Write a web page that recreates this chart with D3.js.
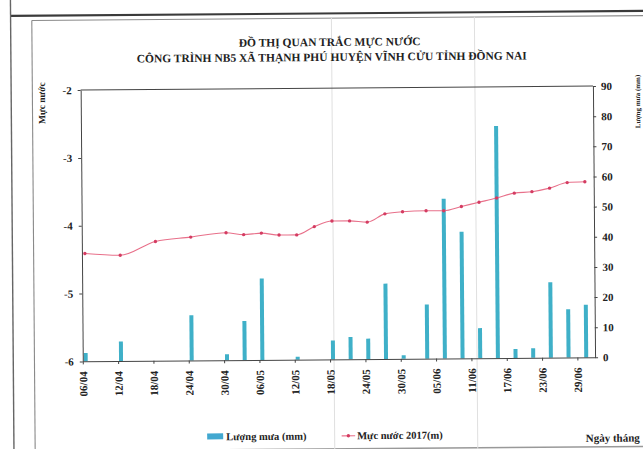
<!DOCTYPE html>
<html><head><meta charset="utf-8">
<script src="https://cdn.jsdelivr.net/npm/d3@7"></script>
<style>
html,body{margin:0;padding:0;background:#fff;overflow:hidden}
svg{display:block}
text{font-family:"Liberation Serif","Times New Roman",serif;font-weight:bold;fill:#222}
</style></head><body>
<svg id="c" width="643" height="449"></svg>
<script>
// ---- data ----
const dates = ["06/04","12/04","18/04","24/04","30/04","03/05","06/05","09/05","12/05","15/05","18/05","21/05","24/05","27/05","30/05","03/06","06/06","09/06","12/06","15/06","18/06","21/06","24/06","27/06","30/06"];
const rainfall = [2.8,6.5,0,15,2,13,27,0,1,0,6.3,7.4,6.8,25,1.2,18,53,42,10,77,3,3.2,25,16,17.5];
const waterLevel = [-4.41,-4.44,-4.24,-4.18,-4.12,-4.15,-4.13,-4.16,-4.16,-4.04,-3.96,-3.96,-3.98,-3.86,-3.83,-3.82,-3.82,-3.76,-3.70,-3.64,-3.57,-3.55,-3.50,-3.42,-3.41];
const xTickLabels = ["06/04","12/04","18/04","24/04","30/04","06/05","12/05","18/05","24/05","30/05","05/06","11/06","17/06","23/06","29/06"];
const leftTicks = [-2,-3,-4,-5,-6];
const rightTicks = [0,10,20,30,40,50,60,70,80,90];
const titleLines = ["ĐỒ THỊ QUAN TRẮC MỰC NƯỚC","CÔNG TRÌNH NB5 XÃ THẠNH PHÚ HUYỆN VĨNH CỬU TỈNH ĐỒNG NAI"];
const seriesNames = ["Lượng mưa (mm)","Mực nước 2017(m)"];
const leftTitle = "Mực nước";
const rightTitle = "Lượng mưa (mm)";
const xTitle = "Ngày tháng";

// ---- helpers ----
const parse = s => { const [d,m] = s.split("/").map(Number); return new Date(Date.UTC(2017, m-1, d)); };
const half = 12*3600*1000;
const mid = s => new Date(parse(s).getTime() + half);

const svg = d3.select("#c");
const root = svg.append("g").attr("transform","rotate(-0.45 321 224)");

// frame (scanned document borders)
root.append("line").attr("x1",12.2).attr("x2",660).attr("y1",13.5).attr("y2",13.5).attr("stroke","#3a3a3a").attr("stroke-width",2.2);
root.append("line").attr("x1",12.2).attr("x2",12.2).attr("y1",-10).attr("y2",470).attr("stroke","#666").attr("stroke-width",1.4);
root.append("line").attr("x1",33.4).attr("x2",660).attr("y1",18.2).attr("y2",18.2).attr("stroke","#8a8a8a").attr("stroke-width",1.1);
root.append("line").attr("x1",33.4).attr("x2",33.4).attr("y1",18.2).attr("y2",470).attr("stroke","#8a8a8a").attr("stroke-width",1.1);
root.append("line").attr("x1",0).attr("x2",660).attr("y1",449).attr("y2",449).attr("stroke","#999").attr("stroke-width",1.5);
// faint fold lines of the scan
[333,476].forEach(x => root.append("line").attr("x1",x).attr("x2",x).attr("y1",18).attr("y2",470).attr("stroke","#e0e0e0").attr("stroke-width",1));

// scales
const L = 81.7, R = 594, T = 88.2, B = 359.5;
const x = d3.scaleUtc().domain([parse("06/04"), parse("02/07")]).range([L, R]);
const yL = d3.scaleLinear().domain([-6,-2]).range([B, T]);
const yR = d3.scaleLinear().domain([0,90]).range([B, T]);

// title
root.append("text").attr("x",331).attr("y",46).attr("text-anchor","middle").style("font-size","11.5px").text(titleLines[0]);
root.append("text").attr("x",333).attr("y",61).attr("text-anchor","middle").style("font-size","11.5px").text(titleLines[1]);

// bars
const bw = 4;
root.append("g").selectAll("rect").data(dates.map((d,i)=>({d, v: rainfall[i]})).filter(o=>o.v>0))
  .join("rect")
  .attr("x", o => x(mid(o.d)) - bw/2)
  .attr("width", bw)
  .attr("y", o => yR(o.v))
  .attr("height", o => B - yR(o.v))
  .attr("fill", "#3fb0c8");

// plot box top & axes
root.append("line").attr("x1",L).attr("x2",R).attr("y1",T).attr("y2",T).attr("stroke","#444").attr("stroke-width",1);

const axL = root.append("g").attr("transform",`translate(${L},0)`)
  .call(d3.axisLeft(yL).tickValues(leftTicks).tickSize(3).tickSizeOuter(0).tickPadding(6).tickFormat(d => String(d)));
const axR = root.append("g").attr("transform",`translate(${R},0)`)
  .call(d3.axisRight(yR).tickValues(rightTicks).tickSize(3).tickSizeOuter(0).tickPadding(5).tickFormat(d => String(d)));
const axB = root.append("g").attr("transform",`translate(0,${B})`)
  .call(d3.axisBottom(x).tickValues(xTickLabels.map(parse)).tickSize(3).tickSizeOuter(0).tickFormat(d3.utcFormat("%d/%m")));

[axL, axR, axB].forEach(a => {
  a.select(".domain").attr("stroke","#444").attr("stroke-width",1);
  a.selectAll(".tick line").attr("stroke","#444");
  a.selectAll("text").attr("fill","#222").style("font-family",'"Liberation Serif",serif').style("font-weight","bold");
});
axL.selectAll("text").style("font-size","11px");
axR.selectAll("text").style("font-size","11px");
axB.selectAll("text").style("font-size","11px")
  .attr("transform","rotate(-90)").attr("text-anchor","end")
  .attr("x",-10).attr("y",0).attr("dy","0.35em");

// water level line
const pts = dates.map((d,i)=>[x(mid(d)), yL(waterLevel[i])]);
root.append("path").attr("d", d3.line().curve(d3.curveMonotoneX)(pts))
  .attr("fill","none").attr("stroke","#e8708a").attr("stroke-width",1.1);
root.append("g").selectAll("circle").data(pts).join("circle")
  .attr("cx",p=>p[0]).attr("cy",p=>p[1]).attr("r",1.7).attr("fill","#d43c62");

// axis titles
root.append("text").attr("transform","translate(46,101) rotate(-90)").attr("text-anchor","middle").style("font-size","9.5px").text(leftTitle);
root.append("text").attr("transform","translate(641,104) rotate(-90)").attr("text-anchor","middle").style("font-size","7px").text(rightTitle);
root.append("text").attr("x",584).attr("y",444).style("font-size","11px").text(xTitle);

// legend
root.append("rect").attr("x",205.5).attr("y",432.5).attr("width",16).attr("height",6).attr("fill","#42a8d0");
root.append("text").attr("x",224.5).attr("y",439.5).style("font-size","10.5px").text(seriesNames[0]);
root.append("line").attr("x1",340).attr("x2",353.5).attr("y1",436).attr("y2",436).attr("stroke","#e8708a").attr("stroke-width",1.1);
root.append("circle").attr("cx",346.7).attr("cy",436).attr("r",1.7).attr("fill","#d43c62");
root.append("text").attr("x",355.5).attr("y",439.5).style("font-size","10.5px").text(seriesNames[1]);
</script>
</body></html>
